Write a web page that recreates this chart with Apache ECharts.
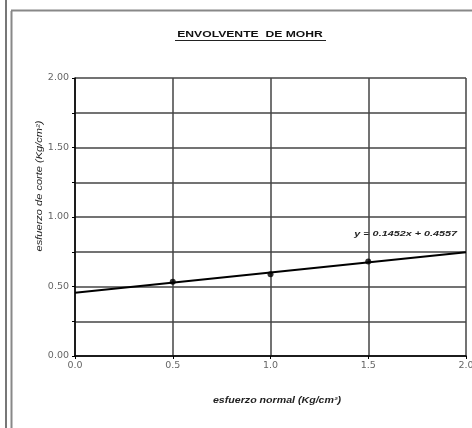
<!DOCTYPE html>
<html><head><meta charset="utf-8">
<script src="https://cdn.jsdelivr.net/npm/echarts@6/dist/echarts.min.js"></script>
<style>html,body{margin:0;padding:0;background:#fff}#c{width:472px;height:428px}</style>
</head><body><div id="c"></div>
<script>
const titleText = 'ENVOLVENTE  DE MOHR';
const xName = 'esfuerzo normal (Kg/cm²)';
const yName = 'esfuerzo de corte (Kg/cm²)';
const normalStress = [0.5, 1.0, 1.5];
const shearStress = [0.535, 0.588, 0.680];
const trendSlope = [0.1452];
const trendIntercept = [0.4557];
const trendX = [0, 2];
const eqLabel = 'y = 0.1452x + 0.4557';

const trendData = trendX.map(x => [x, trendSlope[0] * x + trendIntercept[0]]);
const chart = echarts.init(document.getElementById('c'), null, {renderer: 'canvas'});
const FF = 'Liberation Sans, Arial';
const lab = {fontFamily: 'DejaVu Sans', fontSize: 9.5, color: '#666'};
chart.setOption({
  animation: false,
  backgroundColor: '#fff',
  graphic: [
    {type: 'line', shape: {x1: 6, y1: 0, x2: 6, y2: 428}, style: {stroke: '#777', lineWidth: 2}},
    {type: 'line', shape: {x1: 11.5, y1: 11, x2: 11.5, y2: 428}, style: {stroke: '#888', lineWidth: 2}},
    {type: 'line', shape: {x1: 11, y1: 10.5, x2: 472, y2: 10.5}, style: {stroke: '#888', lineWidth: 2}},
    {type: 'text', x: 250, y: 35, scaleX: 1.35,
      style: {text: titleText, font: 'bold 9px ' + FF, fill: '#111', align: 'center', verticalAlign: 'middle'}},
    {type: 'line', shape: {x1: 175, y1: 40.5, x2: 326, y2: 40.5}, style: {stroke: '#222', lineWidth: 1}},
    {type: 'text', x: 277, y: 401, scaleX: 1.25,
      style: {text: xName, font: 'italic bold 8.5px ' + FF, fill: '#222', align: 'center', verticalAlign: 'middle'}},
    {type: 'text', x: 40, y: 186, rotation: Math.PI / 2, scaleX: 1.3,
      style: {text: yName, font: 'italic 8.5px ' + FF, fill: '#222', align: 'center', verticalAlign: 'middle'}},
    {type: 'text', x: 457, y: 234, scaleX: 1.35,
      style: {text: eqLabel, font: 'italic bold 8px ' + FF, fill: '#222', align: 'right', verticalAlign: 'middle'}}
  ],
  grid: {left: 75, right: 6, top: 78, bottom: 72, containLabel: false, outerBoundsMode: 'none'},
  xAxis: {
    type: 'value', min: 0, max: 2, interval: 0.5,
    axisLine: {lineStyle: {color: '#000', width: 1.5}},
    axisTick: {show: true, length: 3, inside: false, lineStyle: {color: '#000'}},
    axisLabel: Object.assign({formatter: v => v.toFixed(1), margin: 5, hideOverlap: false}, lab),
    splitLine: {show: true, lineStyle: {color: '#444', width: 1.5}}
  },
  yAxis: {
    type: 'value', min: 0, max: 2, interval: 0.25,
    axisLine: {lineStyle: {color: '#000', width: 1.5}},
    axisTick: {show: true, length: 3, lineStyle: {color: '#000'}},
    axisLabel: Object.assign({formatter: v => (Math.abs(v * 2 - Math.round(v * 2)) < 1e-6 ? v.toFixed(2) : ''), margin: 6}, lab),
    splitLine: {show: true, lineStyle: {color: '#444', width: 1.5}}
  },
  series: [
    {type: 'line', data: trendData, symbol: 'none', z: 3, lineStyle: {color: '#000', width: 2}},
    {type: 'scatter', data: normalStress.map((x, i) => [x, shearStress[i]]),
      symbol: 'circle', symbolSize: 6, z: 4, itemStyle: {color: '#000'}}
  ]
});
</script></body></html>
